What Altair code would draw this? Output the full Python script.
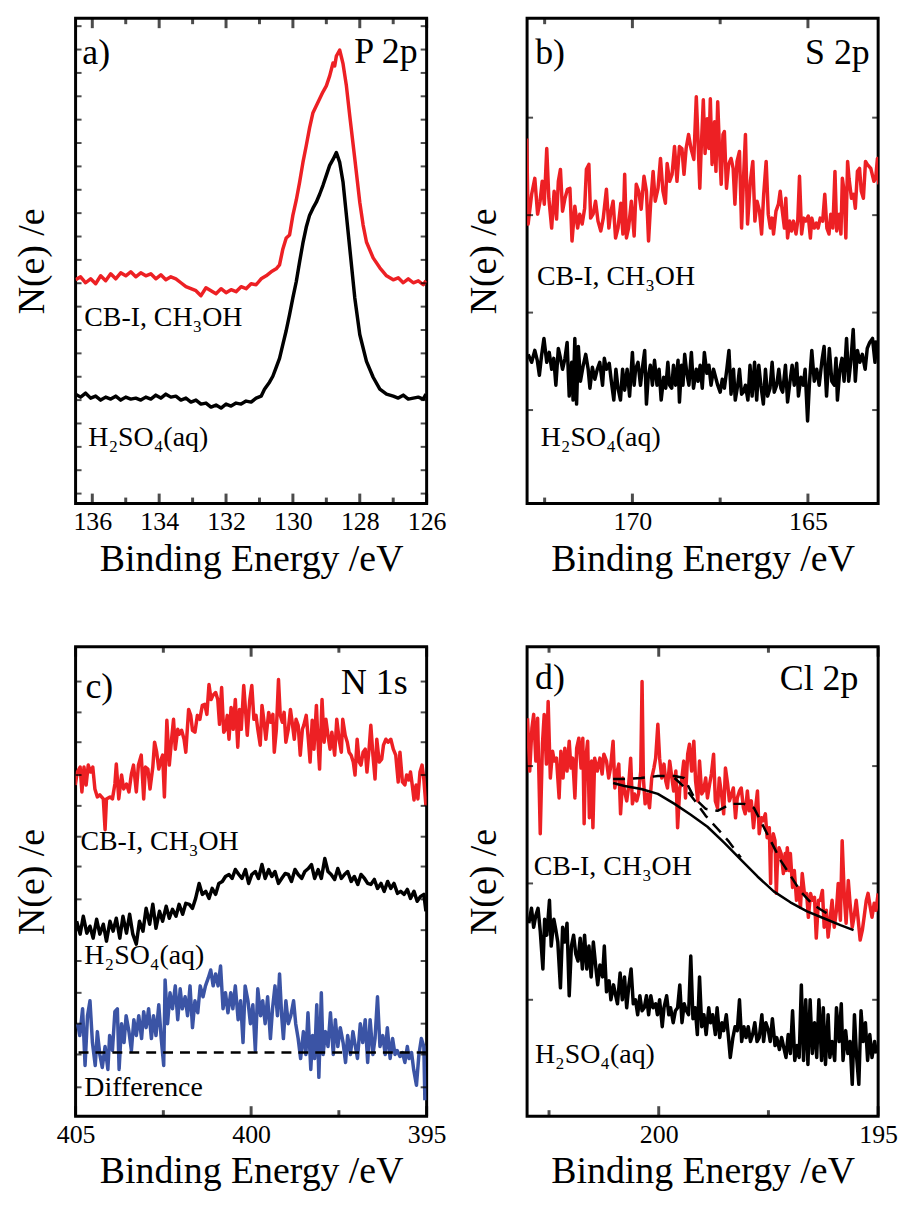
import altair as alt
import pandas as pd

FONT = "Liberation Serif, Times New Roman, Times, DejaVu Serif, serif"
RED = "#ED2024"
BLUE = "#3B54A5"

# ---------------- Panel a: P 2p ----------------
A_RED = [(136.5,225),(136.35,228),(136.2,222),(136.05,226),(135.9,221),(135.75,229),(135.6,224),(135.45,231),(135.3,226),(135.15,232),(135.0,229),(134.85,233),(134.7,228),(134.55,232),(134.4,229),(134.25,231),(134.1,226),(133.95,230),(133.8,225),(133.65,228),(133.5,226),(133.35,222),(133.2,218),(133.05,216),(132.9,214),(132.75,209),(132.6,217),(132.45,214),(132.3,211),(132.15,216),(132.0,212),(131.85,215),(131.7,213),(131.55,218),(131.4,216),(131.25,221),(131.1,220),(130.95,226),(130.8,229),(130.65,233),(130.5,236),(130.4,240),(130.3,256),(130.2,267),(130.1,270),(130.0,290),(129.9,305),(129.8,323),(129.7,343),(129.6,360),(129.5,378),(129.4,393),(129.3,400),(129.2,407),(129.1,414),(129.0,420),(128.9,430),(128.8,443),(128.75,440),(128.7,450),(128.6,456),(128.55,449),(128.5,442),(128.4,420),(128.3,390),(128.15,347),(128.0,303),(127.9,280),(127.8,263),(127.6,247),(127.4,237),(127.2,229),(127.0,225),(126.85,227),(126.7,222),(126.55,226),(126.4,222),(126.25,224),(126.1,220),(126.02,224)]
A_BLACK = [(136.5,110),(136.35,107),(136.2,111),(136.05,106),(135.9,108),(135.75,104),(135.6,107),(135.45,105),(135.3,108),(135.15,104),(135.0,107),(134.85,105),(134.7,106),(134.55,104),(134.4,107),(134.25,105),(134.1,109),(133.95,106),(133.8,110),(133.65,107),(133.5,108),(133.35,104),(133.2,106),(133.05,102),(132.9,104),(132.75,100),(132.6,101),(132.45,97),(132.3,99),(132.15,96),(132.0,100),(131.85,98),(131.7,101),(131.55,100),(131.4,103),(131.25,102),(131.1,106),(130.95,108),(130.85,115),(130.7,122),(130.6,128),(130.5,137),(130.4,146),(130.3,160),(130.2,174),(130.1,190),(130.0,207),(129.9,223),(129.8,243),(129.7,262),(129.6,278),(129.5,290),(129.4,297),(129.3,303),(129.2,311),(129.1,320),(129.0,330),(128.9,340),(128.8,346),(128.7,353),(128.6,343),(128.5,323),(128.4,290),(128.3,257),(128.15,207),(128.0,170),(127.8,143),(127.6,127),(127.4,115),(127.2,110),(127.0,108),(126.85,106),(126.7,109),(126.55,105),(126.4,106),(126.25,107),(126.1,105),(126.02,110)]
A_XDOM = [126, 136.5]
A_XLABELS = [136, 134, 132, 130, 128, 126]
A_XMINOR = [135, 133, 131, 129, 127]
A_YTICKS = [10, 33.5, 57, 80.5, 104, 127.5, 151, 174.5, 198, 221.5, 245, 268.5, 292, 315.5, 339, 362.5, 386, 409.5, 433, 456.5, 480]
A_LEFT_TEXT = [("a)", 136.30, 442, 36), ("CB-I, CH\u2083OH", 136.24, 179, 28), ("H\u2082SO\u2084(aq)", 136.12, 58, 28)]
A_RIGHT_TEXT = [("P 2p", 126.27, 443, 36)]

# ---------------- Panel b: S 2p ----------------
B_RED = [(173.01,367),(172.97,281),(172.87,311),(172.78,327),(172.70,291),(172.63,304),(172.57,324),(172.51,301),(172.44,357),(172.38,307),(172.30,277),(172.23,314),(172.16,286),(172.11,324),(172.05,336),(171.99,294),(171.92,307),(171.85,316),(171.78,317),(171.72,264),(171.64,299),(171.56,277),(171.50,291),(171.43,281),(171.36,297),(171.31,336),(171.24,341),(171.19,287),(171.12,291),(171.05,304),(170.98,284),(170.90,274),(170.83,287),(170.74,316),(170.67,277),(170.62,292),(170.55,304),(170.48,267),(170.41,277),(170.33,302),(170.27,271),(170.22,331),(170.17,267),(170.11,277),(170.03,304),(169.95,269),(169.89,321),(169.82,314),(169.75,296),(169.67,329),(169.60,314),(169.54,264),(169.48,302),(169.41,334),(169.35,304),(169.27,317),(169.20,347),(169.13,314),(169.06,302),(169.01,342),(168.94,324),(168.87,331),(168.80,359),(168.73,324),(168.66,359),(168.59,357),(168.53,331),(168.47,357),(168.40,371),(168.33,357),(168.25,346),(168.18,409),(168.14,374),(168.08,317),(168.04,357),(167.98,406),(167.93,352),(167.87,387),(167.82,357),(167.78,407),(167.73,341),(167.66,384),(167.62,334),(167.57,404),(167.52,357),(167.47,321),(167.42,371),(167.38,374),(167.32,317),(167.26,341),(167.19,347),(167.13,337),(167.08,301),(167.02,344),(166.95,354),(166.89,277),(166.83,331),(166.78,371),(166.72,281),(166.64,324),(166.57,344),(166.51,284),(166.45,304),(166.38,294),(166.32,271),(166.26,311),(166.19,344),(166.13,291),(166.07,277),(166.02,287),(165.98,271),(165.91,294),(165.84,301),(165.79,314),(165.74,297),(165.67,277),(165.63,307),(165.58,267),(165.52,284),(165.47,274),(165.41,284),(165.34,271),(165.29,284),(165.24,329),(165.18,271),(165.12,287),(165.06,284),(164.99,289),(164.93,267),(164.89,287),(164.82,277),(164.76,282),(164.71,277),(164.65,287),(164.58,284),(164.52,311),(164.46,277),(164.40,271),(164.35,291),(164.29,277),(164.23,334),(164.18,274),(164.11,291),(164.06,271),(164.02,327),(163.97,314),(163.92,267),(163.87,344),(163.83,327),(163.76,307),(163.70,311),(163.65,297),(163.59,334),(163.53,337),(163.48,314),(163.42,307),(163.36,344),(163.31,341),(163.21,337),(163.12,324),(163.07,327),(163.02,347),(162.98,321)]
B_BLACK = [(172.97,150),(172.87,142),(172.78,154),(172.71,144),(172.65,129),(172.59,148),(172.52,166),(172.44,142),(172.37,152),(172.30,135),(172.24,146),(172.18,119),(172.11,156),(172.06,148),(171.99,135),(171.92,146),(171.86,162),(171.80,108),(171.73,142),(171.69,104),(171.64,166),(171.59,100),(171.54,158),(171.48,123),(171.40,139),(171.33,150),(171.26,135),(171.21,116),(171.14,137),(171.07,125),(171.00,135),(170.93,142),(170.85,119),(170.80,146),(170.74,135),(170.66,141),(170.60,123),(170.53,104),(170.47,135),(170.41,116),(170.34,104),(170.28,135),(170.22,114),(170.15,135),(170.08,108),(170.00,152),(169.95,119),(169.91,135),(169.84,142),(169.77,119),(169.72,135),(169.65,154),(169.60,100),(169.55,127),(169.49,139),(169.43,119),(169.37,144),(169.30,119),(169.24,135),(169.18,104),(169.11,127),(169.05,116),(168.99,142),(168.94,119),(168.88,116),(168.83,139),(168.77,119),(168.70,144),(168.66,102),(168.60,139),(168.56,119),(168.51,150),(168.45,131),(168.39,119),(168.32,152),(168.26,116),(168.18,135),(168.13,123),(168.07,139),(168.01,116),(167.95,152),(167.88,131),(167.82,139),(167.76,119),(167.69,135),(167.63,127),(167.57,119),(167.50,112),(167.44,125),(167.38,116),(167.31,135),(167.25,154),(167.19,110),(167.12,135),(167.07,104),(167.00,119),(166.95,135),(166.89,110),(166.84,112),(166.78,119),(166.71,104),(166.65,139),(166.59,108),(166.52,142),(166.46,104),(166.40,139),(166.34,119),(166.27,100),(166.21,135),(166.15,108),(166.08,116),(166.02,142),(165.96,112),(165.89,119),(165.83,135),(165.77,116),(165.72,112),(165.64,139),(165.58,102),(165.51,123),(165.45,139),(165.39,119),(165.32,141),(165.27,108),(165.20,127),(165.13,119),(165.08,135),(165.01,83),(164.96,119),(164.89,154),(164.82,123),(164.75,135),(164.68,119),(164.60,144),(164.54,158),(164.47,108),(164.39,156),(164.32,123),(164.25,119),(164.20,146),(164.16,104),(164.09,135),(164.03,146),(163.97,123),(163.90,166),(163.84,123),(163.78,142),(163.71,175),(163.65,123),(163.59,154),(163.52,142),(163.45,150),(163.37,135),(163.31,156),(163.24,162),(163.16,166),(163.09,142),(163.05,164)]
B_XDOM = [163, 173]
B_XLABELS = [170, 165]
B_XMINOR = [172.5, 167.5]
B_YTICKS = [94, 192, 290, 388]
B_LEFT_TEXT = [("b)", 172.77, 442, 36), ("CB-I, CH\u2083OH", 172.72, 220, 28), ("H\u2082SO\u2084(aq)", 172.61, 58, 28)]
B_RIGHT_TEXT = [("S 2p", 163.24, 442, 36)]

# ---------------- Panel c: N 1s ----------------
C_RED = [(405.01,333),(404.95,346),(404.87,351),(404.82,326),(404.76,351),(404.70,333),(404.64,353),(404.57,346),(404.51,351),(404.45,329),(404.38,321),(404.31,323),(404.21,319),(404.16,288),(404.12,319),(404.02,321),(403.95,319),(403.88,334),(403.84,354),(403.77,319),(403.69,343),(403.63,329),(403.55,334),(403.48,326),(403.41,344),(403.35,353),(403.27,326),(403.21,353),(403.13,363),(403.06,319),(403.01,351),(402.94,349),(402.88,329),(402.80,351),(402.75,376),(402.69,366),(402.63,349),(402.56,359),(402.52,363),(402.47,321),(402.40,398),(402.33,353),(402.26,381),(402.21,399),(402.16,369),(402.09,389),(402.05,384),(401.98,388),(401.91,379),(401.86,366),(401.78,409),(401.72,403),(401.67,388),(401.60,386),(401.53,403),(401.46,399),(401.39,413),(401.32,414),(401.26,404),(401.20,434),(401.14,419),(401.09,423),(401.01,426),(400.95,419),(400.90,394),(400.84,431),(400.78,386),(400.73,389),(400.68,403),(400.63,379),(400.57,411),(400.51,389),(400.45,419),(400.38,371),(400.33,409),(400.28,389),(400.21,433),(400.16,409),(400.11,383),(400.04,418),(399.98,433),(399.92,399),(399.86,403),(399.81,389),(399.74,373),(399.69,413),(399.64,399),(399.58,379),(399.50,406),(399.44,396),(399.38,404),(399.34,366),(399.28,389),(399.22,439),(399.17,403),(399.11,396),(399.06,406),(399.01,376),(398.94,389),(398.88,409),(398.83,396),(398.77,379),(398.72,399),(398.66,393),(398.60,363),(398.54,389),(398.50,393),(398.43,403),(398.37,379),(398.32,356),(398.26,398),(398.21,369),(398.14,413),(398.09,373),(398.05,349),(397.98,419),(397.92,376),(397.87,399),(397.81,383),(397.75,369),(397.70,386),(397.62,363),(397.56,399),(397.49,378),(397.43,366),(397.39,399),(397.32,383),(397.26,376),(397.21,366),(397.15,363),(397.09,356),(397.04,343),(396.98,379),(396.92,356),(396.87,353),(396.81,366),(396.75,369),(396.70,346),(396.64,369),(396.59,393),(396.53,363),(396.47,339),(396.42,379),(396.35,356),(396.28,359),(396.23,373),(396.16,379),(396.10,376),(396.02,379),(395.95,369),(395.88,363),(395.81,336),(395.76,366),(395.69,336),(395.62,333),(395.57,343),(395.51,338),(395.46,346),(395.41,333),(395.36,318),(395.30,333),(395.25,319),(395.19,346),(395.13,353),(395.08,339),(395.02,312)]
C_BLACK = [(404.97,196),(404.87,183),(404.78,201),(404.68,184),(404.59,191),(404.50,179),(404.40,198),(404.31,183),(404.21,193),(404.12,176),(404.02,196),(403.93,186),(403.84,199),(403.74,179),(403.65,201),(403.55,184),(403.46,203),(403.37,183),(403.27,173),(403.18,196),(403.08,186),(402.99,209),(402.89,193),(402.80,213),(402.71,189),(402.61,206),(402.52,196),(402.42,211),(402.33,199),(402.24,208),(402.14,201),(402.05,213),(401.95,203),(401.86,214),(401.76,213),(401.67,209),(401.58,219),(401.48,234),(401.39,223),(401.29,226),(401.20,219),(401.11,229),(401.01,223),(400.92,234),(400.82,236),(400.73,241),(400.63,243),(400.54,239),(400.45,248),(400.35,243),(400.26,239),(400.16,248),(400.07,234),(399.98,243),(399.88,246),(399.79,239),(399.69,253),(399.60,239),(399.50,248),(399.41,241),(399.32,246),(399.22,234),(399.13,239),(399.03,244),(398.94,243),(398.85,236),(398.75,248),(398.66,243),(398.56,239),(398.47,246),(398.37,249),(398.28,253),(398.19,239),(398.09,248),(398.00,239),(397.90,259),(397.81,246),(397.72,243),(397.62,238),(397.53,249),(397.43,239),(397.34,243),(397.25,246),(397.15,236),(397.06,241),(396.96,233),(396.87,243),(396.77,239),(396.68,234),(396.59,233),(396.49,238),(396.40,229),(396.30,234),(396.21,226),(396.11,236),(396.02,229),(395.93,234),(395.83,224),(395.74,226),(395.64,223),(395.55,228),(395.46,219),(395.36,226),(395.27,216),(395.17,221),(395.08,223),(395.02,206)]
C_BLUE = [(404.94,93),(404.88,81),(404.80,108),(404.73,51),(404.66,101),(404.59,116),(404.52,74),(404.44,51),(404.38,85),(404.31,62),(404.24,49),(404.16,70),(404.08,47),(404.03,81),(403.95,66),(403.88,105),(403.81,108),(403.76,47),(403.69,93),(403.62,74),(403.56,101),(403.48,85),(403.41,66),(403.34,97),(403.27,81),(403.20,101),(403.12,78),(403.06,105),(402.99,89),(402.92,108),(402.84,78),(402.78,101),(402.71,81),(402.63,112),(402.56,78),(402.49,51),(402.45,137),(402.38,93),(402.31,124),(402.24,108),(402.16,131),(402.09,97),(402.02,128),(401.96,108),(401.88,120),(401.81,101),(401.74,131),(401.67,89),(401.60,116),(401.52,104),(401.45,131),(401.37,120),(401.30,131),(401.22,139),(401.15,147),(401.08,131),(401.01,143),(400.94,131),(400.87,151),(400.80,108),(400.73,124),(400.66,104),(400.58,124),(400.52,108),(400.45,131),(400.37,97),(400.30,116),(400.23,74),(400.17,131),(400.09,116),(400.02,93),(399.95,112),(399.88,66),(399.81,128),(399.73,101),(399.67,116),(399.60,93),(399.53,120),(399.45,78),(399.39,108),(399.32,131),(399.25,101),(399.19,143),(399.13,101),(399.08,78),(399.01,116),(398.94,93),(398.87,101),(398.79,116),(398.73,93),(398.66,78),(398.59,58),(398.51,85),(398.44,62),(398.38,104),(398.30,47),(398.25,81),(398.19,58),(398.13,112),(398.07,39),(398.00,124),(397.95,62),(397.88,85),(397.81,70),(397.74,104),(397.66,62),(397.60,97),(397.53,70),(397.46,89),(397.38,74),(397.31,54),(397.25,81),(397.17,62),(397.10,85),(397.03,70),(396.97,58),(396.89,93),(396.82,74),(396.75,97),(396.68,54),(396.61,97),(396.53,62),(396.47,78),(396.40,120),(396.33,70),(396.25,81),(396.18,62),(396.12,89),(396.04,58),(395.97,78),(395.90,62),(395.84,66),(395.76,60),(395.69,64),(395.62,54),(395.55,70),(395.50,58),(395.43,64),(395.37,47),(395.29,31),(395.22,62),(395.15,78),(395.08,70),(395.05,16)]
C_ZERO = [64]
C_XDOM = [395, 405]
C_XLABELS = [405, 400, 395]
C_XMINOR = [402.5, 397.5]
C_YTICKS = [29, 62, 93, 124, 156, 187, 218, 251, 281, 312, 343, 376, 406, 437]
C_LEFT_TEXT = [("c)", 404.72, 420, 36), ("CB-I, CH\u2083OH", 404.86, 268, 28), ("H\u2082SO\u2084(aq)", 404.75, 153, 28), ("Difference", 404.75, 20, 28)]
C_RIGHT_TEXT = [("N 1s", 395.54, 424, 36)]

# ---------------- Panel d: Cl 2p ----------------
D_RED = [(202.99,400),(202.94,347),(202.89,390),(202.85,404),(202.80,357),(202.76,400),(202.70,284),(202.65,374),(202.61,404),(202.56,354),(202.52,417),(202.47,340),(202.42,367),(202.38,357),(202.33,360),(202.27,320),(202.23,367),(202.18,340),(202.14,370),(202.09,347),(202.04,377),(202.00,350),(201.96,360),(201.91,320),(201.87,370),(201.82,380),(201.77,350),(201.73,380),(201.70,294),(201.67,357),(201.62,377),(201.58,300),(201.53,357),(201.50,290),(201.46,360),(201.40,347),(201.34,360),(201.29,344),(201.25,364),(201.19,357),(201.14,340),(201.10,350),(201.04,377),(201.00,330),(200.96,344),(200.91,354),(200.87,304),(200.82,340),(200.78,327),(200.73,317),(200.69,330),(200.64,360),(200.60,314),(200.55,324),(200.50,317),(200.46,324),(200.41,347),(200.38,437),(200.35,340),(200.31,314),(200.26,324),(200.21,310),(200.16,340),(200.11,350),(200.07,360),(200.02,394),(199.98,360),(199.93,340),(199.88,354),(199.84,337),(199.80,330),(199.75,357),(199.70,340),(199.66,327),(199.61,347),(199.57,290),(199.52,330),(199.48,337),(199.43,357),(199.39,320),(199.34,364),(199.30,374),(199.25,347),(199.20,377),(199.16,337),(199.11,317),(199.07,357),(199.02,324),(198.98,327),(198.93,340),(198.89,320),(198.84,334),(198.80,344),(198.75,364),(198.71,317),(198.66,310),(198.62,340),(198.57,324),(198.52,304),(198.48,350),(198.43,334),(198.39,317),(198.34,324),(198.30,330),(198.25,300),(198.21,320),(198.16,327),(198.12,330),(198.07,310),(198.03,304),(197.98,327),(197.94,307),(197.89,317),(197.84,290),(197.80,307),(197.75,327),(197.71,284),(197.66,300),(197.62,297),(197.57,304),(197.53,280),(197.48,290),(197.45,234),(197.44,264),(197.39,284),(197.35,277),(197.32,224),(197.30,250),(197.26,270),(197.21,264),(197.16,244),(197.12,264),(197.10,247),(197.07,270),(197.03,247),(197.00,264),(196.95,230),(196.91,247),(196.86,217),(196.82,230),(196.77,210),(196.73,244),(196.68,224),(196.63,224),(196.59,200),(196.54,224),(196.50,217),(196.45,220),(196.41,179),(196.36,217),(196.32,217),(196.27,227),(196.23,190),(196.18,207),(196.14,180),(196.09,200),(196.05,217),(196.00,190),(195.95,207),(195.91,234),(195.86,197),(195.82,277),(195.77,220),(195.73,194),(195.68,237),(195.64,214),(195.59,190),(195.55,200),(195.50,217),(195.46,200),(195.41,177),(195.36,187),(195.32,200),(195.27,217),(195.23,224),(195.18,210),(195.14,200),(195.09,214),(195.05,207),(195.00,224)]
D_BLACK = [(202.96,194),(202.90,209),(202.85,190),(202.80,202),(202.75,209),(202.70,186),(202.64,148),(202.60,198),(202.55,182),(202.49,217),(202.45,171),(202.39,198),(202.34,186),(202.30,175),(202.24,129),(202.19,190),(202.14,175),(202.09,194),(202.04,121),(201.99,171),(201.94,182),(201.89,163),(201.84,156),(201.79,179),(201.74,148),(201.69,182),(201.64,148),(201.59,171),(201.54,140),(201.49,175),(201.43,148),(201.39,132),(201.34,152),(201.28,140),(201.24,171),(201.19,125),(201.13,136),(201.09,117),(201.03,132),(200.98,121),(200.94,113),(200.88,144),(200.83,117),(200.78,140),(200.73,109),(200.68,132),(200.63,148),(200.58,113),(200.53,117),(200.48,102),(200.43,121),(200.38,106),(200.33,109),(200.28,121),(200.23,102),(200.18,121),(200.13,109),(200.07,113),(200.03,102),(199.98,117),(199.92,90),(199.88,109),(199.82,121),(199.77,102),(199.73,109),(199.67,94),(199.62,106),(199.57,109),(199.52,132),(199.47,94),(199.42,113),(199.37,106),(199.32,102),(199.27,161),(199.22,98),(199.17,109),(199.12,82),(199.07,140),(199.02,90),(198.97,102),(198.92,82),(198.86,109),(198.82,94),(198.77,102),(198.71,82),(198.67,109),(198.61,79),(198.56,94),(198.52,86),(198.46,102),(198.41,79),(198.37,59),(198.31,79),(198.26,90),(198.21,86),(198.16,117),(198.11,75),(198.06,90),(198.01,79),(197.96,90),(197.91,75),(197.86,82),(197.81,94),(197.76,75),(197.71,79),(197.65,102),(197.61,75),(197.56,94),(197.50,86),(197.46,75),(197.41,98),(197.35,71),(197.31,79),(197.25,67),(197.20,79),(197.16,71),(197.10,59),(197.05,82),(197.00,63),(196.95,106),(196.90,56),(196.85,71),(196.80,59),(196.75,132),(196.70,56),(196.65,117),(196.60,52),(196.55,117),(196.50,63),(196.45,94),(196.40,59),(196.35,117),(196.29,56),(196.25,109),(196.20,52),(196.14,102),(196.10,59),(196.05,75),(195.99,56),(195.95,109),(195.89,75),(195.84,113),(195.80,56),(195.74,86),(195.69,63),(195.64,75),(195.59,32),(195.54,102),(195.49,59),(195.44,32),(195.39,106),(195.34,75),(195.29,94),(195.24,56),(195.19,82),(195.14,59),(195.08,75),(195.04,63)]
D_FIT_SOLID = [(201.04,335),(200.78,332),(200.40,329),(200.02,324),(199.64,314),(199.27,303),(198.89,291),(198.51,275),(198.13,258),(197.75,241),(197.38,226),(197.00,215),(196.62,206),(196.24,199),(195.86,192),(195.56,187)]
D_FIT_DASH_UPPER = [(201.04,339),(200.78,339),(200.40,340),(200.02,342),(199.64,342),(199.42,340),(199.19,320),(198.93,309),(198.66,307),(198.36,314),(198.06,314),(197.83,310),(197.68,297),(197.45,277),(197.22,257),(197.00,242),(196.77,226),(196.54,215),(196.32,208),(196.17,204)]
D_FIT_DASH_LOWER = [(199.64,340),(199.42,331),(199.19,318),(198.93,302),(198.66,289),(198.40,276),(198.13,260)]
D_XDOM = [195, 203]
D_XLABELS = [200, 195]
D_XMINOR = [202.5, 197.5]
D_YTICKS = [117, 234, 352]
D_LEFT_TEXT = [("d)", 202.82, 430, 36), ("CB-I, CH\u2083OH", 202.85, 242, 28), ("H\u2082SO\u2084(aq)", 202.82, 53, 28)]
D_RIGHT_TEXT = [("Cl 2p", 195.45, 429, 36)]


def to_df(pairs):
    return pd.DataFrame(pairs, columns=["E", "I"])


def text_df(items):
    return pd.DataFrame(items, columns=["t", "E", "I", "fs"])


def make_panel(xdom, xlabels, xminor, ydom, yticks, w, h, curves, left_text, right_text, zero=None):
    X = alt.X("E:Q",
              scale=alt.Scale(domain=xdom, reverse=True, nice=False, zero=False),
              axis=alt.Axis(values=xlabels, format="d", title="Binding Energy /eV",
                            ticks=False, domain=False, grid=False, labelFontSize=26,
                            titleFontSize=38, labelPadding=5, titlePadding=6,
                            labelFlush=False, labelOverlap=False))
    Y = alt.Y("I:Q",
              scale=alt.Scale(domain=ydom, nice=False, zero=False),
              axis=alt.Axis(title="N(e) /e", labels=False, ticks=False, domain=False,
                            grid=False, titleFontSize=38, titlePadding=24))
    layers = []
    for pairs, color, dash, sw in curves:
        kw = dict(color=color, strokeWidth=sw, clip=True, strokeJoin="round")
        if dash:
            kw["strokeDash"] = dash
        layers.append(alt.Chart(to_df(pairs)).mark_line(**kw).encode(x=X, y=Y))
    if zero is not None:
        layers.append(alt.Chart(pd.DataFrame({"I": zero})).mark_rule(
            color="black", strokeWidth=2.5, strokeDash=[10, 7]).encode(y=Y))
    # inward ticks on the frame
    maj = pd.DataFrame({"E": xlabels})
    mnr = pd.DataFrame({"E": xminor})
    layers.append(alt.Chart(maj).mark_tick(color="black", thickness=3, size=10).encode(x=X, y=alt.value(h - 5)))
    layers.append(alt.Chart(maj).mark_tick(color="black", thickness=3, size=10).encode(x=X, y=alt.value(5)))
    layers.append(alt.Chart(mnr).mark_tick(color="black", thickness=3, size=6).encode(x=X, y=alt.value(h - 3)))
    layers.append(alt.Chart(mnr).mark_tick(color="black", thickness=3, size=6).encode(x=X, y=alt.value(3)))
    yt = pd.DataFrame({"I": yticks})
    layers.append(alt.Chart(yt).mark_tick(color="black", thickness=2, size=6).encode(y=Y, x=alt.value(3)))
    layers.append(alt.Chart(yt).mark_tick(color="black", thickness=2, size=6).encode(y=Y, x=alt.value(w - 3)))
    layers.append(alt.Chart(text_df(left_text)).mark_text(
        align="left", baseline="alphabetic", font=FONT, color="black").encode(
        x=X, y=Y, text="t:N", size=alt.Size("fs:Q", scale=None)))
    layers.append(alt.Chart(text_df(right_text)).mark_text(
        align="right", baseline="alphabetic", font=FONT, color="black").encode(
        x=X, y=Y, text="t:N", size=alt.Size("fs:Q", scale=None)))
    return alt.layer(*layers).properties(width=w, height=h)


pa = make_panel(A_XDOM, A_XLABELS, A_XMINOR, [0, 488], A_YTICKS, 353, 488,
                [(A_RED, RED, None, 3.5), (A_BLACK, "black", None, 3.5)], A_LEFT_TEXT, A_RIGHT_TEXT)
pb = make_panel(B_XDOM, B_XLABELS, B_XMINOR, [0, 488], B_YTICKS, 353, 488,
                [(B_RED, RED, None, 3.5), (B_BLACK, "black", None, 3.5)], B_LEFT_TEXT, B_RIGHT_TEXT)
pc = make_panel(C_XDOM, C_XLABELS, C_XMINOR, [0, 472], C_YTICKS, 353, 472,
                [(C_RED, RED, None, 3.5), (C_BLACK, "black", None, 3.5), (C_BLUE, BLUE, None, 3.5)],
                C_LEFT_TEXT, C_RIGHT_TEXT, zero=C_ZERO)
pd_ = make_panel(D_XDOM, D_XLABELS, D_XMINOR, [0, 472], D_YTICKS, 353, 472,
                 [(D_RED, RED, None, 3.5), (D_BLACK, "black", None, 3.5),
                  (D_FIT_SOLID, "black", None, 2.5), (D_FIT_DASH_UPPER, "black", [12, 8], 2.5),
                  (D_FIT_DASH_LOWER, "black", [12, 8], 2.5)],
                 D_LEFT_TEXT, D_RIGHT_TEXT)

chart = alt.concat(pa, pb, pc, pd_, columns=2, spacing={"row": 144, "column": 101},
                   bounds="flush").properties(
    padding={"left": 12, "top": 13, "right": 5, "bottom": 5}
).configure_view(stroke="black", strokeWidth=3).configure_axis(
    labelFont=FONT, titleFont=FONT, titleFontWeight="normal",
    labelColor="black", titleColor="black"
).configure_text(font=FONT)

chart.save("out.html", embed_options={"renderer": "svg", "actions": False})
